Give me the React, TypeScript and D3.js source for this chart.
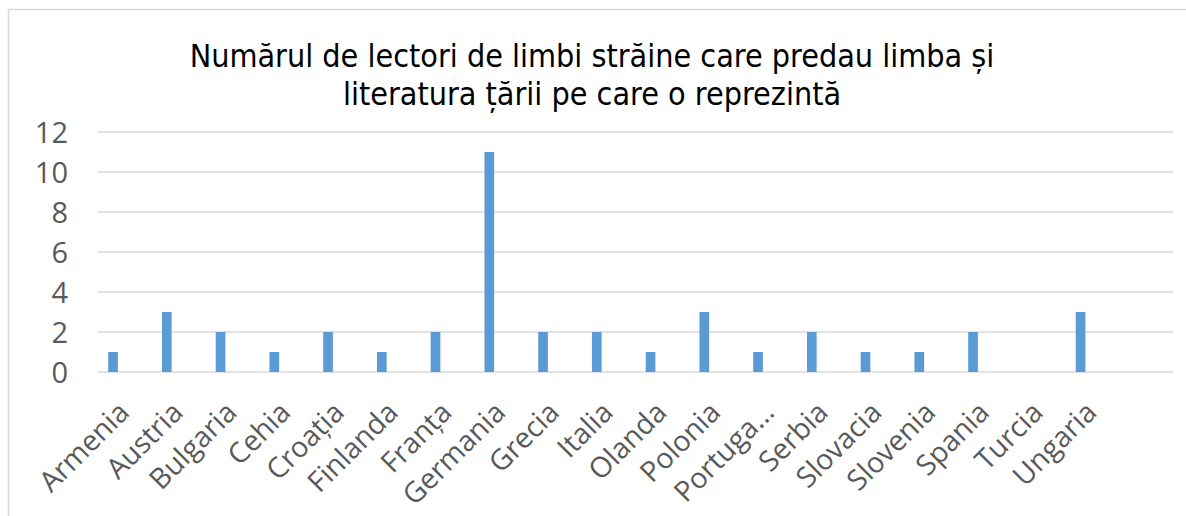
import { scaleBand, scaleLinear } from "d3";

const width = 1186;
const height = 516;
const margin = { top: 132, right: 13, bottom: 144, left: 98 };
const innerWidth = width - margin.left - margin.right;
const innerHeight = height - margin.top - margin.bottom;

const titleLines = [
  "Numărul de lectori de limbi străine care predau limba și",
  "literatura țării pe care o reprezintă",
];
// last slot is empty in the original chart
const countries = [
  "Armenia", "Austria", "Bulgaria", "Cehia", "Croația", "Finlanda", "Franța",
  "Germania", "Grecia", "Italia", "Olanda", "Polonia", "Portuga…", "Serbia",
  "Slovacia", "Slovenia", "Spania", "Turcia", "Ungaria", "",
];
const lectori = [1, 3, 2, 1, 2, 1, 2, 11, 2, 2, 1, 3, 1, 2, 1, 1, 2, 0, 3, null];
const yTicks = [0, 2, 4, 6, 8, 10, 12];

const labelFont = "'Open Sans', sans-serif";

function App() {
  const xScale = scaleBand<string>()
    .domain(countries.map((c, i) => c + "#" + i))
    .range([0, innerWidth]);

  const yScale = scaleLinear().domain([0, 12]).range([innerHeight, 0]);

  const bw = xScale.bandwidth();
  const barW = bw * 0.18;
  const barOffset = bw * 0.28 - barW / 2;

  return (
    <svg width={width} height={height} style={{ display: "block", position: "absolute", left: 0, top: 0 }}>
      <rect x={0} y={0} width={width} height={height} fill="#fff" />
      <rect x={8.5} y={9.5} width={width} height={height} fill="none" stroke="#d9d9d9" strokeWidth={1.5} />
      {titleLines.map((t, i) => (
        <text
          key={i}
          x={592}
          y={67 + i * 38}
          textAnchor="middle"
          fontFamily="'DejaVu Sans Condensed', 'DejaVu Sans', sans-serif"
          fontSize={32}
          fill="#000"
        >
          {t}
        </text>
      ))}
      <g transform={`translate(${margin.left},${margin.top})`}>
        {yTicks.map((v) => (
          <g key={v} transform={`translate(0,${yScale(v)})`}>
            <line x1={0} x2={innerWidth} stroke="#d9d9d9" strokeWidth={1.5} />
            <text x={-30} y={11} textAnchor="end" fontFamily={labelFont} fontSize={29} fill="#595959">
              {v}
            </text>
          </g>
        ))}
        {lectori.map((v, i) => {
          if (v == null) return null;
          const key = countries[i] + "#" + i;
          return (
            <rect
              key={key}
              x={(xScale(key) ?? 0) + barOffset}
              y={yScale(v)}
              width={barW}
              height={innerHeight - yScale(v)}
              fill="#5b9bd5"
            />
          );
        })}
        {countries.map((c, i) => {
          const key = c + "#" + i;
          const cx = (xScale(key) ?? 0) + bw / 2 + 6;
          return (
            <text
              key={key}
              transform={`translate(${cx},${innerHeight + 42}) rotate(-45)`}
              textAnchor="end"
              fontFamily={labelFont}
              fontSize={28.5}
              fill="#595959"
            >
              {c}
            </text>
          );
        })}
      </g>
    </svg>
  );
}

export default App;
